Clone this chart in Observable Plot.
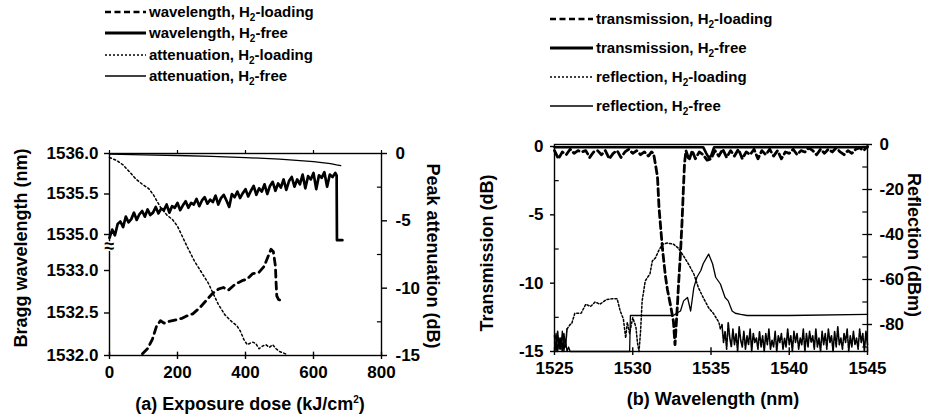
<!DOCTYPE html>
<html><head><meta charset="utf-8">
<script src="https://cdn.jsdelivr.net/npm/d3@7"></script>
<script src="https://cdn.jsdelivr.net/npm/@observablehq/plot@0.6"></script>
<style>
body{margin:0;background:#fff;}
#c{position:relative;width:931px;height:416px;overflow:hidden;font-family:"Liberation Sans",Arial,sans-serif;color:#000;background:#fff;}
.t{position:absolute;white-space:nowrap;font-size:18px;font-weight:bold;line-height:1;transform:translate(-50%,-50%);}
.leg{position:absolute;white-space:nowrap;font-size:15px;font-weight:bold;line-height:18px;height:18px;display:flex;align-items:center;}
.leg svg{margin-right:3px;}
sub{font-size:10px;vertical-align:-4px;line-height:0;}
sup{font-size:10px;vertical-align:7px;line-height:0;}
</style>
</head><body>
<div id="c"></div>
<script>
// ---------- ticks ----------
const doseTicks = [0, 200, 400, 600, 800];
const wlUpperTicks = [1535, 1535.5, 1536];
const wlLowerTicks = [1532, 1532.5, 1533];
const attTicks = [0, -5, -10, -15];
const attMinorTicks = [-2.5, -7.5, -12.5];
const lambdaTicks = [1525, 1530, 1535, 1540, 1545];
const transTicks = [0, -5, -10, -15];
const transMinorTicks = [-2.5, -7.5, -12.5];
const reflTicks = [0, -20, -40, -60, -80];
const reflMinorTicks = [-10, -30, -50, -70, -90];

// ---------- panel (a) ----------
const attDose = [0,20,40,60,80,100,115,130,150,170,185,200,215,230,250,270,290,305,320,340,360,375,385,395,405,420,430,440,450,460,470,480,490,500,520];
const attLoading = [-0.3,-0.5,-0.85,-1.4,-1.95,-2.35,-2.6,-3.1,-4.0,-4.6,-4.9,-5.4,-6.2,-7.0,-8.0,-8.8,-9.6,-10.4,-11.2,-12.0,-12.5,-12.8,-13.2,-13.8,-14.2,-14.0,-14.1,-14.5,-14.3,-14.2,-14.4,-14.2,-14.5,-14.7,-14.9];
const attFreeDose = [0,100,200,300,400,500,600,650,668,680];
const attFree = [-0.05,-0.1,-0.15,-0.22,-0.3,-0.42,-0.6,-0.75,-0.85,-0.9];

const wlFreeDose = [0,8,16,24,32,40,48,56,64,72,80,88,96,104,112,120,128,136,144,152,160,168,176,184,192,200,208,216,224,232,240,248,256,264,272,280,288,296,304,312,320,328,336,344,352,360,368,376,384,392,400,408,416,424,432,440,448,456,464,472,480,488,496,504,512,520,528,536,544,552,560,568,576,584,592,600,608,616,624,632,640,648,656,664,668,669,685];
const wlFree = [1534.96,1535.06,1534.99,1535.13,1535.16,1535.09,1535.22,1535.15,1535.19,1535.27,
1535.18,1535.25,1535.29,1535.22,1535.31,1535.24,1535.27,1535.34,1535.26,1535.32,
1535.30,1535.37,1535.27,1535.35,1535.33,1535.39,1535.30,1535.36,1535.41,1535.33,
1535.39,1535.37,1535.44,1535.35,1535.42,1535.46,1535.38,1535.43,1535.40,1535.48,
1535.37,1535.45,1535.49,1535.42,1535.34,1535.50,1535.46,1535.53,1535.45,1535.51,
1535.56,1535.47,1535.54,1535.60,1535.49,1535.57,1535.53,1535.62,1535.50,1535.60,
1535.65,1535.54,1535.63,1535.58,1535.68,1535.55,1535.66,1535.71,1535.59,1535.68,
1535.62,1535.74,1535.57,1535.72,1535.68,1535.76,1535.56,1535.73,1535.70,1535.77,
1535.59,1535.74,1535.71,1535.76,1535.73,1534.93,1534.93];

const wlLoadDose = [97,112,126,138,150,160,175,197,215,230,245,265,285,303,320,335,350,370,390,405,420,440,455,465,475,482,488,490,492,497,508];
const wlLoad = [1532.02,1532.08,1532.19,1532.34,1532.41,1532.38,1532.40,1532.42,1532.44,1532.47,1532.49,1532.56,1532.65,1532.73,1532.78,1532.80,1532.77,1532.84,1532.88,1532.90,1532.96,1532.98,1533.05,1533.15,1533.25,1533.22,1533.05,1532.85,1532.70,1532.66,1532.64];

// ---------- panel (b) ----------
const trFreeWl = [1525,1534.5,1534.7,1534.85,1535.0,1535.2,1545];
const trFree = [-0.05,-0.05,-0.5,-0.8,-0.7,-0.05,-0.05];

const trLoadWl = [1525.0,1525.25,1525.5,1525.75,1526.0,1526.25,1526.5,1526.75,1527.0,1527.25,1527.5,1527.75,1528.0,1528.25,1528.5,1528.75,1529.0,1529.25,1529.5,1529.75,1530.0,1530.25,1530.5,1530.75,1531.0,1531.2,1531.33,1531.58,1531.68,1531.9,1532.09,1532.22,1532.41,1532.6,1532.7,1532.78,1532.86,1532.92,1533.05,1533.15,1533.24,1533.31,1533.4,1533.6,1533.8,1534.0,1534.25,1534.5,1534.75,1535.0,1535.25,1535.5,1535.75,1536.0,1536.25,1536.5,1536.75,1537.0,1537.25,1537.5,1537.75,1538.0,1538.25,1538.5,1538.75,1539.0,1539.25,1539.5,1539.75,1540.0,1540.25,1540.5,1540.75,1541.0,1541.25,1541.5,1541.75,1542.0,1542.25,1542.5,1542.75,1543.0,1543.25,1543.5,1543.75,1544.0,1544.25,1544.5,1544.75,1545.0];
const trLoad = [-0.3,-0.9,-0.4,-0.6,-0.2,-0.5,-0.3,-0.4,-0.3,-0.8,-0.4,-0.3,-0.6,-0.3,-0.9,-0.5,-0.3,-0.8,-0.4,-0.2,-0.5,-0.3,-0.6,-0.4,-0.7,-0.4,-0.5,-2.2,-4.5,-7.5,-9.5,-10.5,-11.6,-12.8,-14.5,-13.0,-11.5,-10.2,-7.8,-5.5,-3.0,-1.2,-0.3,-1.0,-0.3,-0.9,-0.4,-0.6,-1.0,-0.9,-0.3,-0.7,-0.2,-0.8,-0.3,-0.7,-0.2,-0.9,-0.4,-0.6,-0.2,-0.9,-0.3,-0.6,-0.2,-0.7,-0.3,-0.9,-0.4,-0.5,-0.2,-0.6,-0.3,-0.4,-0.1,-0.3,-0.6,-0.2,-0.5,-0.2,-0.4,-0.1,-0.4,-0.6,-0.3,-0.5,-0.2,-0.1,-0.3,0];

// reflection, H2-loading: main trace, then the noise floor on both sides
const rfLoadWl = [1525.8,1526.0,1526.1,1526.3,1526.7,1527.0,1527.3,1527.6,1527.9,1528.3,1528.7,1529.0,1529.2,1529.4,1529.55,1529.65,1529.8,1530.0,1530.2,1530.3,1530.4,1530.5,1530.6,1530.8,1530.95,1531.1,1531.25,1531.45,1531.65,1531.9,1532.2,1532.6,1532.9,1533.25,1533.55,1533.9,1534.2,1534.5,1534.85,1535.15,1535.5,1535.6,1535.7];
const rfLoad = [-82,-80,-79.6,-75,-75,-71,-72,-70,-71,-69,-68.5,-68.5,-74,-77.5,-86,-79,-84,-77,-81,-88,-92,-83,-69.5,-60.6,-59,-57.5,-51.8,-50.4,-47.3,-44.3,-43.8,-44.3,-46,-49.6,-53,-57.5,-63.7,-68,-72.6,-75,-79,-82,-80];
const rfLoadFloorLeftWl = [1525.0,1525.1,1525.2,1525.3,1525.4,1525.5,1525.6,1525.7,1525.8];
const rfLoadFloorLeft = [-85,-92,-83,-91,-86,-92,-84,-90,-82];
const rfLoadFloorRightWl = [1535.7,1535.8,1535.9,1536.0,1536.1,1536.2,1536.3,1536.4,1536.5,1536.6,1536.7,1536.8,1536.9,1537.0,1537.1,1537.2,1537.3,1537.4,1537.5,1537.6,1537.7,1537.8,1537.9,1538.0,1538.1,1538.2,1538.3,1538.4,1538.5,1538.6,1538.7,1538.8,1538.9,1539.0,1539.1,1539.2,1539.3,1539.4,1539.5,1539.6,1539.7,1539.8,1539.9,1540.0,1540.1,1540.2,1540.3,1540.4,1540.5,1540.6,1540.7,1540.8,1540.9,1541.0,1541.1,1541.2,1541.3,1541.4,1541.5,1541.6,1541.7,1541.8,1541.9,1542.0,1542.1,1542.2,1542.3,1542.4,1542.5,1542.6,1542.7,1542.8,1542.9,1543.0,1543.1,1543.2,1543.3,1543.4,1543.5,1543.6,1543.7,1543.8,1543.9,1544.0,1544.1,1544.2,1544.3,1544.4,1544.5,1544.6,1544.7,1544.8,1544.9,1545.0];
const rfLoadFloorRight = [-80,-88,-83,-91,-79,-86,-90,-82,-89,-84,
-92,-81,-87,-90,-83,-91,-85,-89,-82,-92,
-84,-88,-86,-91,-83,-90,-85,-92,-84,-89,
-82,-91,-87,-90,-83,-92,-85,-88,-84,-91,
-86,-90,-82,-89,-85,-92,-83,-88,-84,-91,
-86,-89,-82,-92,-84,-90,-83,-88,-85,-91,
-82,-90,-86,-92,-83,-89,-84,-91,-82,-88,
-85,-92,-83,-90,-81,-89,-86,-91,-84,-88,
-82,-92,-85,-90,-83,-89,-86,-91,-82,-88,
-84,-92,-83,-89];

const rfFreeWl = [1525.0,1525.1,1525.2,1525.3,1525.4,1525.5,1525.6,1525.7,1525.8,1525.9,1526.0,1529.8,1529.85,1532.6,1532.8,1533.05,1533.25,1533.5,1533.7,1533.9,1534.1,1534.35,1534.5,1534.7,1534.85,1535.1,1535.3,1535.6,1535.9,1536.1,1536.35,1536.55,1536.9,1537.3,1540,1545];
const rfFree = [-88,-84,-92,-86,-91,-83,-92,-87,-92,-90,-92,-92,-76,-76,-75,-74,-69.5,-68,-74,-63.7,-59,-56,-53,-50.5,-48.7,-53,-59,-62,-68,-69.5,-74,-75,-75.5,-76,-76,-75.5];

// legend labels
const legendA = ["wavelength", "wavelength", "attenuation", "attenuation"];
const legendB = ["transmission", "transmission", "reflection", "reflection"];
const legendKind = ["loading", "free", "loading", "free"];

// ---------- helpers ----------
const zip = (xs, ys) => xs.map((x, i) => ({x, y: ys[i]}));
const c = document.getElementById("c");
const W = 931, H = 416;
const fmt = d => String(d);
function layer(spec) {
  const svg = Plot.plot({
    width: W, height: H,
    style: "background:transparent;overflow:visible;font-family:'Liberation Sans',Arial,sans-serif;font-size:17px;font-weight:bold;color:#000;",
    ...spec
  });
  svg.style.position = "absolute";
  svg.style.left = "0px";
  svg.style.top = "0px";
  svg.style.maxWidth = "none";
  c.appendChild(svg);
}
const LA = {marginLeft: 109, marginRight: W - 381, marginTop: 153, marginBottom: H - 355};
const LB = {marginLeft: 554, marginRight: W - 867, marginTop: 144, marginBottom: H - 351};

// ---------- panel (a): attenuation layer (right axis) ----------
layer({
  ...LA,
  x: {domain: [0, 800], axis: null},
  y: {domain: [-15, 0], range: [355, 153], axis: null},
  marks: [
    Plot.frame({stroke: "black", strokeWidth: 1.4}),
    Plot.axisX(doseTicks, {anchor: "bottom", tickSize: 4, tickPadding: 6, tickFormat: fmt, label: null, strokeWidth: 1.4}),
    Plot.ruleX(doseTicks, {x: d => d, y1: -15, y2: -14.75, strokeWidth: 1.4}),
    Plot.axisX(doseTicks, {anchor: "top", tickSize: 4, tickFormat: () => "", label: null, strokeWidth: 1.2}),
    Plot.axisY(attTicks, {anchor: "right", tickSize: 5, tickPadding: 9, tickFormat: fmt, label: null, strokeWidth: 1.4}),
    Plot.ruleY(attMinorTicks, {y: d => d, x1: 788, x2: 800, strokeWidth: 1.2}),
    Plot.line(zip(attDose, attLoading), {x: "x", y: "y", stroke: "black", strokeWidth: 1.5, strokeDasharray: "2,2.5"}),
    Plot.line(zip(attFreeDose, attFree), {x: "x", y: "y", stroke: "black", strokeWidth: 1.3})
  ]
});
// upper wavelength segment (H2-free)
layer({
  ...LA,
  x: {domain: [0, 800], axis: null},
  y: {domain: [1535, 1536], range: [234, 153], axis: null},
  marks: [
    Plot.axisY(wlUpperTicks, {anchor: "left", tickSize: 5, tickPadding: 6, tickFormat: d3.format(".1f"), label: null, strokeWidth: 1.4}),
    Plot.line(zip(wlFreeDose, wlFree), {x: "x", y: "y", stroke: "black", strokeWidth: 2.7, strokeLinejoin: "round"}),
    Plot.text(["≈"], {x: () => 0, y: () => 1534.85, text: d => d, fontSize: 18, fontWeight: "bold", stroke: "white", strokeWidth: 3, fill: "black"})
  ]
});
// lower wavelength segment (H2-loading)
layer({
  ...LA,
  x: {domain: [0, 800], axis: null},
  y: {domain: [1532, 1533], range: [355, 270], axis: null},
  marks: [
    Plot.axisY(wlLowerTicks, {anchor: "left", tickSize: 5, tickPadding: 6, tickFormat: d3.format(".1f"), label: null, strokeWidth: 1.4}),
    Plot.line(zip(wlLoadDose, wlLoad), {x: "x", y: "y", stroke: "black", strokeWidth: 2.8, strokeDasharray: "7,5"})
  ]
});

// ---------- panel (b): transmission layer ----------
layer({
  ...LB,
  x: {domain: [1525, 1545], axis: null},
  y: {domain: [-15, 0], range: [351, 146], axis: null},
  marks: [
    Plot.frame({stroke: "black", strokeWidth: 1.4}),
    Plot.axisX(lambdaTicks, {anchor: "bottom", tickSize: 4, tickPadding: 6, tickFormat: fmt, label: null, strokeWidth: 1.4}),
    Plot.ruleX(lambdaTicks, {x: d => d, y1: -15, y2: -14.72, strokeWidth: 1.4}),
    Plot.axisY(transTicks, {anchor: "left", tickSize: 4, tickPadding: 7, tickFormat: fmt, label: null, strokeWidth: 1.4}),
    Plot.ruleY(transMinorTicks, {y: d => d, x1: 1525, x2: 1525.3, strokeWidth: 1.2}),
    Plot.line(zip(trFreeWl, trFree), {x: "x", y: "y", stroke: "black", strokeWidth: 2.6}),
    Plot.line(zip(trLoadWl, trLoad), {x: "x", y: "y", stroke: "black", strokeWidth: 2.8, strokeDasharray: "7,4"})
  ]
});
// reflection layer
layer({
  ...LB,
  x: {domain: [1525, 1545], axis: null},
  y: {domain: [-92, 0], range: [351, 144], axis: null},
  marks: [
    Plot.axisY(reflTicks, {anchor: "right", tickSize: 4, tickPadding: 8, tickFormat: fmt, label: null, strokeWidth: 1.4}),
    Plot.ruleY(reflMinorTicks.concat(reflTicks), {y: d => d, x1: 1544.7, x2: 1545, strokeWidth: 1.2}),
    Plot.line(zip(rfLoadWl, rfLoad), {x: "x", y: "y", stroke: "black", strokeWidth: 1.5, strokeDasharray: "2,2"}),
    Plot.line(zip(rfLoadFloorLeftWl, rfLoadFloorLeft), {x: "x", y: "y", stroke: "black", strokeWidth: 1.6, strokeDasharray: "4,1"}),
    Plot.line(zip(rfLoadFloorRightWl, rfLoadFloorRight), {x: "x", y: "y", stroke: "black", strokeWidth: 1.6, strokeDasharray: "4,1"}),
    Plot.line(zip(rfFreeWl, rfFree), {x: "x", y: "y", stroke: "black", strokeWidth: 1.3})
  ]
});

// ---------- titles ----------
function title(html, x, y, rot) {
  const d = document.createElement("div");
  d.className = "t";
  d.innerHTML = html;
  d.style.left = x + "px";
  d.style.top = y + "px";
  if (rot) d.style.transform = `translate(-50%,-50%) rotate(${rot}deg)`;
  c.appendChild(d);
}
title("(a) Exposure dose (kJ/cm<sup>2</sup>)", 250, 404, 0);
title("Bragg wavelength (nm)", 21, 248, -90);
title("Peak attenuation (dB)", 433, 256, 90);
title("(b) Wavelength (nm)", 713, 399, 0);
title("Transmission (dB)", 487, 253, -90);
title("Reflection (dBm)", 914, 245, 90);

// ---------- legends ----------
const sampleStyles = [
  {w: 2.6, dash: "6,3.5"},
  {w: 2.8, dash: null},
  {w: 1.3, dash: "2,2"},
  {w: 1.6, dash: null}
];
function legend(labels, x, y0, dy, sw) {
  labels.forEach((lab, i) => {
    const s = sampleStyles[i];
    const d = document.createElement("div");
    d.className = "leg";
    d.style.left = x + "px";
    d.style.top = (y0 + i * dy - 9) + "px";
    d.innerHTML = `<svg width="${sw}" height="10"><line x1="0" x2="${sw}" y1="5" y2="5" stroke="black" stroke-width="${s.w}" ${s.dash ? `stroke-dasharray="${s.dash}"` : ""}/></svg><span>${lab}, H<sub>2</sub>-${legendKind[i]}</span>`;
    c.appendChild(d);
  });
}
legend(legendA, 105, 12, 21.3, 41);
legend(legendB, 550, 19, 29, 43);
</script>
</body></html>
